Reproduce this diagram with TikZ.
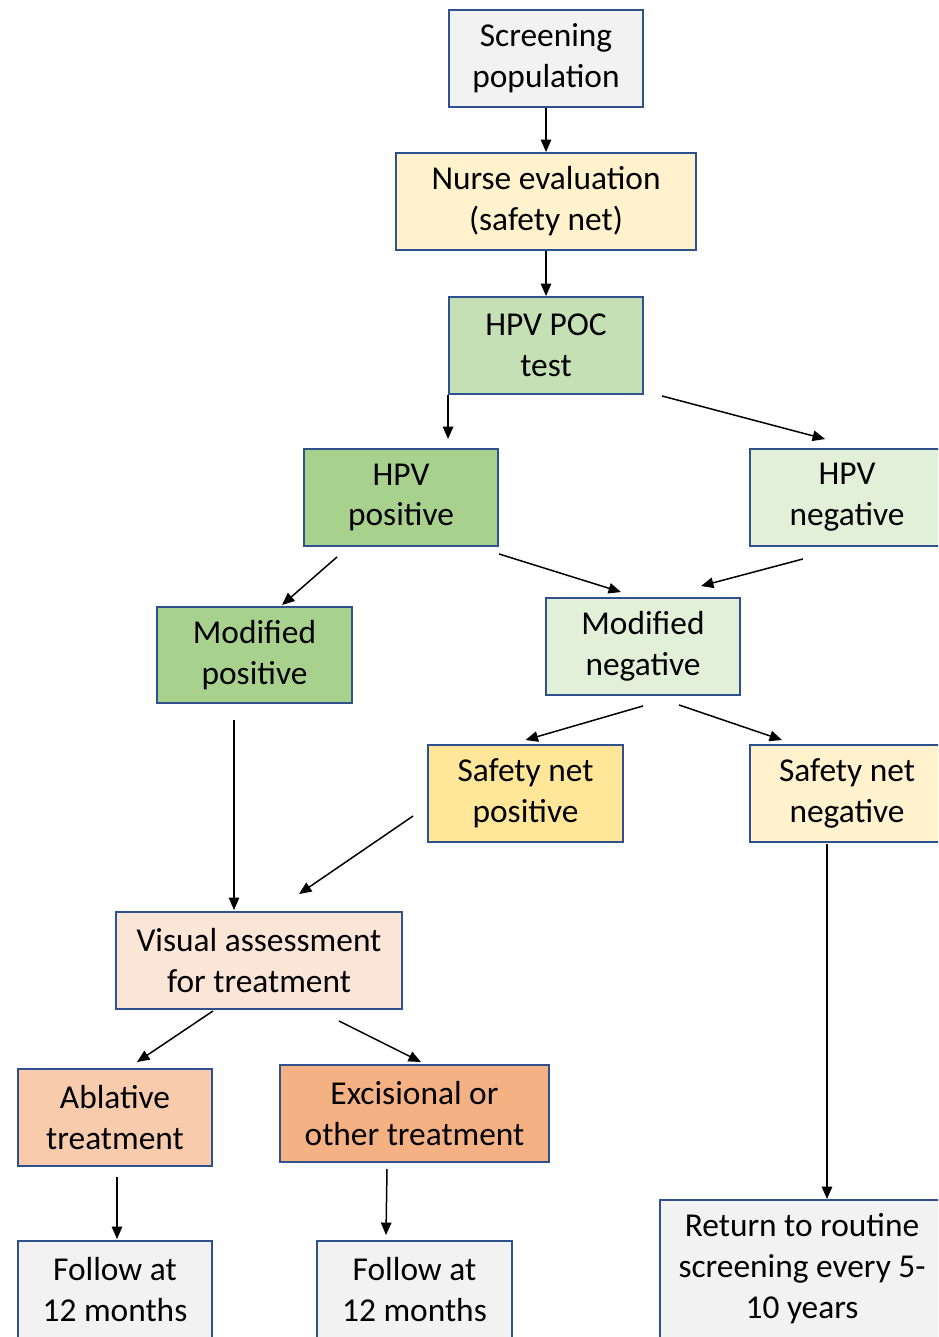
\documentclass[tikz,border=0pt]{standalone}
\usepackage{fontspec}
\setmainfont{Carlito}
\usetikzlibrary{calc,arrows.meta}
\definecolor{edge}{HTML}{2F528F}
\definecolor{greybox}{HTML}{F2F2F2}
\definecolor{creambox}{HTML}{FFF2CC}
\definecolor{gold}{HTML}{FFE699}
\definecolor{midgreen}{HTML}{C5E0B4}
\definecolor{darkgreen}{HTML}{A9D18E}
\definecolor{palegreen}{HTML}{E2F0D9}
\definecolor{peach}{HTML}{FBE5D6}
\definecolor{salmon}{HTML}{F8CBAD}
\definecolor{orangebox}{HTML}{F4B183}
\begin{document}
\begin{tikzpicture}[x=0.02cm,y=-0.02cm,
  every node/.style={font=\fontsize{19}{23.3}\selectfont},
  box/.style={draw=edge,line width=1.1pt,align=center,inner sep=1pt,minimum width=3.88cm,minimum height=1.94cm},
  flow/.style={line width=0.85pt,-{Triangle[length=2.5mm,width=2.1mm]}}]
\useasboundingbox (0,0) rectangle (938,1337);
\clip (0,0) rectangle (938,1337);
% top of the chain
\node[box,fill=greybox] (scr) at (546,58.5) {Screening\\population};
\node[box,fill=creambox,minimum width=6cm] (nurse) at (546,201.5) {Nurse evaluation\\(safety net)};
\node[box,fill=midgreen] (poc) at (546,345.5) {HPV POC\\test};
% HPV result
\node[box,fill=darkgreen] (hpvpos) at (401,497.5) {HPV\\positive};
\node[box,fill=palegreen] (hpvneg) at (847,497.5) {HPV\\negative};
% modified result
\node[box,fill=darkgreen,minimum width=3.9cm,minimum height=1.92cm] (modpos) at (254.5,655) {Modified\\positive};
\node[box,fill=palegreen] (modneg) at (643,646.5) {Modified\\negative};
% safety net
\node[box,fill=gold,minimum width=3.9cm] (snpos) at (525.5,793.5) {Safety net\\positive};
\node[box,fill=creambox] (snneg) at (847,793.5) {Safety net\\negative};
% treatment
\node[box,fill=peach,minimum width=5.72cm] (visual) at (259,960.5) {Visual assessment\\for treatment};
\node[box,fill=salmon] (ablat) at (115,1117.5) {Ablative\\treatment};
\node[box,fill=orangebox,minimum width=5.38cm] (excis) at (414.5,1113.5) {Excisional or\\other treatment};
% follow-up
\node[box,fill=greybox] (follow1) at (115,1289.5) {Follow at\\12 months};
\node[box,fill=greybox,minimum width=3.9cm] (follow2) at (414.5,1289.5) {Follow at\\12 months};
\node[box,fill=greybox,minimum width=5.68cm,minimum height=2.76cm] (ret) at (802,1269) {Return to routine\\screening every 5-\\10 years};
% arrows
\draw[flow] (scr.south) -- (nurse.north);
\draw[flow] (nurse.south) -- (poc.north);
\draw[flow,shorten >=1.8mm] (poc.south west) -- (poc.south west |- hpvpos.north);
\draw[flow] ($(poc.south east)+(18,1)$) -- ($(hpvneg.north west)+(76,-9)$);
\draw[flow] ($(hpvpos.south west)+(34,10)$) -- ($(modpos.north)+(27.5,-1)$);
\draw[flow] ($(hpvpos.south east)+(0,7)$) -- ($(modneg.north west)+(76,-5)$);
\draw[flow] ($(hpvneg.south)+(-44,12)$) -- ($(modneg.north east)+(-40,-11)$);
\draw[flow] ($(modneg.south)+(0,10)$) -- ($(snpos.north)+(0,-4)$);
\draw[flow] ($(modneg.south)+(36,9)$) -- ($(snneg.north west)+(33,-4)$);
\draw[flow] ($(modpos.south)+(-20.5,16)$) -- ($(visual.north)+(-25,-1)$);
\draw[flow] ($(snpos.west)+(-14,22.5)$) -- ($(visual.north)+(40,-17)$);
\draw[flow] ($(snneg.south)+(-20,1)$) -- ($(ret.north)+(25,0)$);
\draw[flow] ($(visual.south)+(-46,1)$) -- ($(ablat.north)+(22,-6)$);
\draw[flow] ($(visual.south)+(80,11)$) -- ($(excis.north)+(6.5,-2)$);
\draw[flow] ($(ablat.south)+(2,10)$) -- ($(follow1.north)+(2,-1)$);
\draw[flow] ($(excis.south)+(-27.5,6)$) -- ($(follow2.north)+(-28.5,-5)$);
\end{tikzpicture}
\end{document}
